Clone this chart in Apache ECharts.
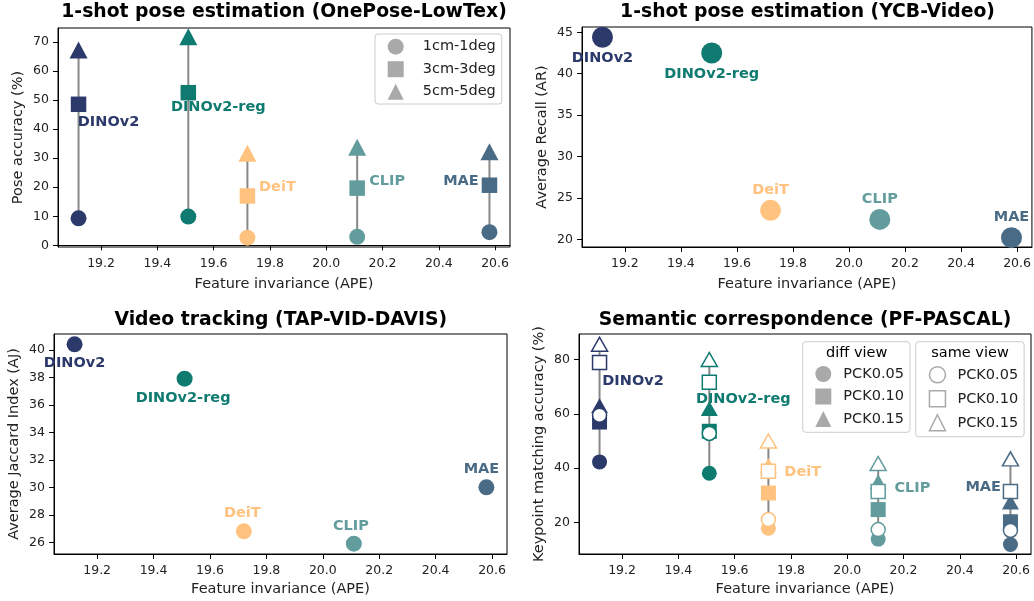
<!DOCTYPE html>
<html>
<head>
<meta charset="utf-8">
<script src="https://cdn.jsdelivr.net/npm/echarts@6/dist/echarts.min.js"></script>
<style>
  html, body { margin: 0; padding: 0; background: #fff; }
  #chart { width: 1034px; height: 601px; }
</style>
</head>
<body>
<div id="chart"></div>
<script>
// models and their feature invariance (x for every panel)
var models = ['DINOv2', 'DINOv2-reg', 'DeiT', 'CLIP', 'MAE']
var ape = [19.12, 19.51, 19.72, 20.11, 20.58]
var colors = ['#2c3a6b', '#0f7b70', '#ffc27f', '#629c9c', '#4a6b85']

// 1-shot pose estimation (OnePose-LowTex)
var pose1cm = [9.3, 9.9, 2.6, 2.9, 4.5]
var pose3cm = [48.6, 52.6, 17.0, 19.7, 20.7]
var pose5cm = [67.3, 71.9, 31.7, 33.8, 32.2]

// 1-shot pose estimation (YCB-Video)
var ycbRecall = [44.4, 42.5, 23.5, 22.4, 20.2]

// Video tracking (TAP-VID-DAVIS)
var tapJaccard = [40.4, 37.9, 26.8, 25.9, 30.0]

// Semantic correspondence (PF-PASCAL)
var diff005 = [42.3, 38.1, 17.8, 13.8, 11.8]
var diff010 = [57.0, 53.6, 30.8, 24.7, 20.2]
var diff015 = [63.0, 62.0, 41.0, 35.0, 27.5]
var same005 = [59.5, 52.8, 21.0, 17.3, 17.0]
var same010 = [79.0, 71.7, 38.8, 31.4, 31.4]
var same015 = [85.7, 80.1, 50.0, 41.7, 43.4]

// tick labels
var xTicks = [19.2, 19.4, 19.6, 19.8, 20.0, 20.2, 20.4, 20.6]
var poseTicks = [0, 10, 20, 30, 40, 50, 60, 70]
var ycbTicks = [20, 25, 30, 35, 40, 45]
var tapTicks = [26, 28, 30, 32, 34, 36, 38, 40]
var pascalTicks = [20, 40, 60, 80]

var poseLegend = ['1cm-1deg', '3cm-3deg', '5cm-5deg']
var pckNames = ['PCK0.05', 'PCK0.10', 'PCK0.15']

var FONT = 'DejaVu Sans'
var TXT = '#222'
var GREY = '#a9a9a9'

var chart = echarts.init(document.getElementById('chart'))

var grids = [
  { left: 58, top: 28, width: 452, height: 219 },
  { left: 582, top: 27, width: 451, height: 220 },
  { left: 54, top: 334, width: 453, height: 220 },
  { left: 579, top: 334, width: 452, height: 220 }
]
grids.forEach(function (g) {
  g.show = true
  g.borderColor = '#000'
  g.borderWidth = 1
  g.backgroundColor = '#fff'
})

function makeXAxis(gi, gap) {
  return {
    type: 'value', gridIndex: gi, min: 19.047, max: 20.653,
    name: 'Feature invariance (APE)', nameLocation: 'middle', nameGap: gap,
    nameTextStyle: { fontFamily: FONT, fontSize: 14.5, color: TXT },
    splitLine: { show: false },
    axisLine: { show: true, lineStyle: { color: '#000', width: 1 } },
    axisTick: { show: true, length: 5, customValues: xTicks, lineStyle: { color: '#000' } },
    axisLabel: {
      customValues: xTicks, margin: 10, fontFamily: FONT, fontSize: 12.5, color: TXT,
      formatter: function (v) { return v.toFixed(1) }
    }
  }
}

function makeYAxis(gi, min, max, ticks, name, gap) {
  return {
    type: 'value', gridIndex: gi, min: min, max: max,
    name: name, nameLocation: 'middle', nameGap: gap, nameRotate: 90,
    nameTextStyle: { fontFamily: FONT, fontSize: 14.5, color: TXT },
    splitLine: { show: false },
    axisLine: { show: true, lineStyle: { color: '#000', width: 1 } },
    axisTick: { show: true, length: 5, customValues: ticks, lineStyle: { color: '#000' } },
    axisLabel: { customValues: ticks, margin: 9, fontFamily: FONT, fontSize: 12.5, color: TXT }
  }
}

function points(ys, open) {
  return models.map(function (m, i) {
    var style = open
      ? { color: '#fff', borderColor: colors[i], borderWidth: 1.5, opacity: 1 }
      : { color: colors[i], opacity: 1 }
    return { name: m, value: [ape[i], ys[i]], itemStyle: style }
  })
}

function markers(gi, ys, symbol, size, open, z) {
  return {
    type: 'scatter', xAxisIndex: gi, yAxisIndex: gi, symbol: symbol, symbolSize: size,
    itemStyle: { opacity: 1 },
    data: points(ys, open), z: z || 3, silent: true
  }
}

// vertical grey connector from the lowest to the highest value of each model
function connectors(gi, lists) {
  var data = models.map(function (m, i) {
    var vals = lists.map(function (l) { return l[i] })
    return [ape[i], Math.min.apply(null, vals), Math.max.apply(null, vals)]
  })
  return {
    type: 'custom', xAxisIndex: gi, yAxisIndex: gi, z: 1, silent: true,
    encode: { x: 0, y: [1, 2] },
    data: data,
    renderItem: function (params, api) {
      var a = api.coord([api.value(0), api.value(1)])
      var b = api.coord([api.value(0), api.value(2)])
      return {
        type: 'line',
        shape: { x1: a[0], y1: a[1], x2: b[0], y2: b[1] },
        style: { stroke: '#888', lineWidth: 2 }
      }
    }
  }
}

function nameLabels(gi, ys, offsets) {
  return {
    type: 'scatter', xAxisIndex: gi, yAxisIndex: gi, symbolSize: 0.1, z: 6, silent: true,
    itemStyle: { color: 'transparent', opacity: 1 },
    label: { show: true, position: 'inside', formatter: '{b}', fontFamily: FONT, fontWeight: 'bold', fontSize: 14.5, opacity: 1 },
    data: models.map(function (m, i) {
      return {
        name: m, value: [ape[i], ys[i]],
        label: { offset: offsets[i], color: colors[i] }
      }
    })
  }
}

function legendDummy(name, symbol, open) {
  return {
    type: 'scatter', name: name, symbol: symbol, xAxisIndex: 0, yAxisIndex: 0, data: [],
    itemStyle: open
      ? { color: '#fff', borderColor: GREY, borderWidth: 1.5, opacity: 1 }
      : { color: GREY, opacity: 1 }
  }
}

function legendItem(name, icon, open) {
  return {
    name: name, icon: icon,
    itemStyle: open
      ? { color: '#fff', borderColor: GREY, borderWidth: 1.5, opacity: 1 }
      : { color: GREY, borderWidth: 0, opacity: 1 }
  }
}

var legendBase = {
  orient: 'vertical', itemWidth: 16, itemHeight: 16, itemGap: 6.5,
  borderColor: '#cccccc', borderWidth: 1, borderRadius: 3,
  backgroundColor: 'rgba(255,255,255,0.8)', selectedMode: false,
  inactiveColor: GREY
}

var icons = ['circle', 'rect', 'triangle']

var series = [
  // panel 1
  connectors(0, [pose1cm, pose3cm, pose5cm]),
  markers(0, pose1cm, 'circle', 16),
  markers(0, pose3cm, 'rect', 15.5),
  markers(0, pose5cm, 'triangle', [18, 17]),
  nameLabels(0, pose3cm, [[30, 17.5], [30, 14.7], [30, -8.3], [30, -6.6], [-28.5, -4.3]]),
  // panel 2
  markers(1, ycbRecall, 'circle', 21),
  nameLabels(1, ycbRecall, [[0, 20.6], [0, 21], [0, -20.3], [0, -20.3], [0, -20.7]]),
  // panel 3
  markers(2, tapJaccard, 'circle', 16),
  nameLabels(2, tapJaccard, [[0, 19], [-1.5, 19.3], [-1.5, -18.3], [-3, -17.6], [-5, -17.7]]),
  // panel 4
  connectors(3, [diff005, diff010, diff015, same005, same010, same015]),
  markers(3, diff005, 'circle', 15, false, 3),
  markers(3, diff010, 'rect', 15, false, 3),
  markers(3, diff015, 'triangle', [17, 15], false, 3),
  markers(3, same005, 'circle', 14, true, 4),
  markers(3, same010, 'rect', 14, true, 4),
  markers(3, same015, 'triangle', [16, 14], true, 4),
  nameLabels(3, same010, [[33.5, 19], [34, 17.3], [34.3, 0.6], [34.2, -3.4], [-27.3, -4.4]])
]

poseLegend.forEach(function (n, i) { series.push(legendDummy(n, icons[i], false)) })
pckNames.forEach(function (n, i) { series.push(legendDummy('diff ' + n, icons[i], false)) })
pckNames.forEach(function (n, i) { series.push(legendDummy('same ' + n, icons[i], true)) })

var legends = [
  Object.assign({}, legendBase, {
    left: 375, top: 34, padding: [4.7, 6, 4.3, 12.7],
    data: poseLegend.map(function (n, i) { return legendItem(n, icons[i], false) }),
    textStyle: { fontFamily: FONT, fontSize: 14.5, color: TXT, lineHeight: 16, padding: [0, 0, 0, 14] }
  }),
  Object.assign({}, legendBase, {
    left: 802.7, top: 341.7, padding: [24.3, 6, 5.3, 12.6],
    data: pckNames.map(function (n, i) { return legendItem('diff ' + n, icons[i], false) }),
    formatter: function (n) { return n.split(' ')[1] },
    textStyle: { fontFamily: FONT, fontSize: 14.5, color: TXT, lineHeight: 16, padding: [0, 0, 0, 7] }
  }),
  Object.assign({}, legendBase, {
    left: 915.7, top: 341.7, padding: [24.3, 6, 5.3, 13],
    data: pckNames.map(function (n, i) { return legendItem('same ' + n, icons[i], true) }),
    formatter: function (n) { return n.split(' ')[1] },
    textStyle: { fontFamily: FONT, fontSize: 14.5, color: TXT, lineHeight: 16, padding: [0, 0, 0, 7] }
  })
]

function panelTitle(text, cx, top, size, weight) {
  return {
    text: text, left: cx, top: top, textAlign: 'center', padding: 0,
    textStyle: { fontFamily: FONT, fontSize: size, fontWeight: weight, color: '#000' }
  }
}

var option = {
  animation: false,
  backgroundColor: '#fff',
  title: [
    panelTitle('1-shot pose estimation (OnePose-LowTex)', 284, 3, 18.8, 'bold'),
    panelTitle('1-shot pose estimation (YCB-Video)', 807.5, 3, 18.8, 'bold'),
    panelTitle('Video tracking (TAP-VID-DAVIS)', 280.8, 311, 18.8, 'bold'),
    panelTitle('Semantic correspondence (PF-PASCAL)', 805, 311, 18.8, 'bold'),
    panelTitle('diff view', 856.7, 346, 14.5, 'normal'),
    panelTitle('same view', 970, 346, 14.5, 'normal')
  ],
  grid: grids,
  xAxis: [makeXAxis(0, 30), makeXAxis(1, 30), makeXAxis(2, 28), makeXAxis(3, 28)],
  yAxis: [
    makeYAxis(0, -0.6, 74.9, poseTicks, 'Pose accuracy (%)', 32),
    makeYAxis(1, 19.07, 45.64, ycbTicks, 'Average Recall (AR)', 32),
    makeYAxis(2, 25.15, 41.15, tapTicks, 'Average Jaccard Index (AJ)', 32),
    makeYAxis(3, 8.3, 89.5, pascalTicks, 'Keypoint matching accuracy (%)', 32)
  ],
  legend: legends,
  series: series
}

chart.setOption(option)
</script>
</body>
</html>
